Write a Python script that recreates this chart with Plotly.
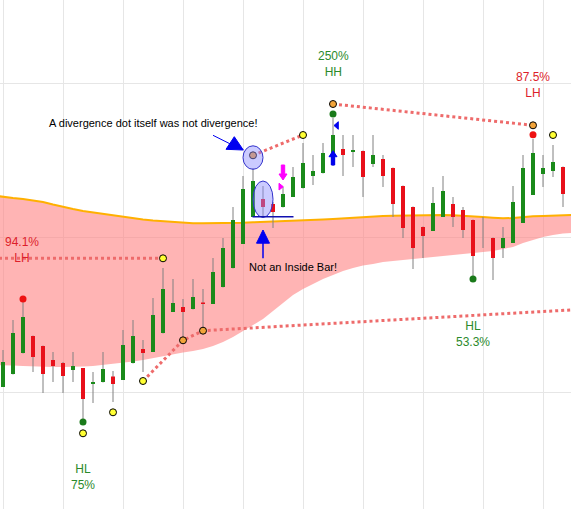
import plotly.graph_objects as go

# candles, price in chart units
bar = list(range(57))
opens = [122, 135, 156, 173, 163, 149, 146, 139, 141, 125,
         127, 132.5, 129, 146, 160, 157, 176, 197, 202, 200,
         206.5, 205, 222, 241, 265, 292, 310, 305, 302, 312,
         321, 333, 336, 344, 360, 357, 358, 345, 350, 341,
         323, 302, 282, 278, 292, 305, 299, 289, 272, 271,
         261, 266, 286, 314, 335, 338, 342]
highs = [159, 189, 207, 173.5, 163.5, 157, 147, 157, 141, 137,
         157, 138, 179, 189, 169, 211, 241, 230, 210, 230,
         220, 251, 271, 302, 333, 341, 323, 307, 322, 342,
         366, 354, 366, 391, 374, 374, 358.5, 374, 354, 341.5,
         323.5, 302.5, 282.5, 322, 333, 312, 302, 289.5, 292, 271.5,
         282, 323, 354, 370, 354, 364, 342.5]
lows = [122, 134.5, 155.5, 137, 116, 127, 116, 127, 89, 106,
        126.5, 107, 129, 145.5, 137, 157, 175.5, 197, 171, 199.5,
        182, 205, 221.5, 240.5, 265, 292, 292, 281, 301.5, 312,
        320.5, 324, 335.5, 343, 333, 342, 312, 342, 322, 292,
        271, 240, 251, 278, 292, 282, 271, 232, 261, 229,
        251, 266, 286, 314, 322, 332, 302]
closes = [147, 176, 192, 152, 135, 143, 133, 143, 110, 127,
          140, 125, 164, 173, 156, 194, 220, 206, 197, 212,
          205, 237, 261, 289, 320, 328, 302, 297, 315, 332,
          346, 338, 356, 374, 354, 359, 332, 354, 333, 305,
          281, 261, 273, 306, 318, 292, 279, 253, 272, 251,
          271, 307, 341, 356, 341, 347, 315]

# envelope band
band_x = list(range(-1, 58))
band_upper = [313.5, 312, 311, 310, 308.5, 307, 304.5, 302, 300, 298,
              296.5, 295, 293.5, 292, 290.5, 289.5, 288.5, 287.7, 287, 286.3,
              285.8, 285.7, 285.7, 285.8, 286, 286.3, 286.7, 287, 287.3, 287.7,
              288, 288.5, 289, 289.5, 290, 290.7, 291.3, 292, 292.7, 293,
              293.3, 293.5, 293.7, 294, 294, 294, 293.7, 293.3, 292.7, 292,
              291.3, 290.7, 291, 292, 292.7, 293, 293.5, 294, 294]
band_lower = [144, 144, 143.5, 143, 142.5, 142, 142, 142, 142, 142.5,
              143, 144, 145, 146.5, 147.5, 149, 151, 153, 155, 156.5,
              158, 160, 163, 167, 172, 178, 184, 190, 198, 206,
              214, 220, 225, 230, 234, 238, 241, 243.5, 245, 247,
              248, 249, 250, 251, 252, 253, 254, 255, 256, 257,
              258, 260, 262, 266, 269, 272, 274, 275.5, 276]

# pivot dots
yellow_x = [8, 11, 14, 16, 30, 55]
yellow_y = [75.7, 96.7, 128, 250.7, 374, 374]
orange_x = [18, 20, 25, 33, 53]
orange_y = [168.7, 178.3, 353.7, 405, 383.7]
green_x = [8, 33, 47]
green_y = [87, 395, 230]
red_x = [2, 53]
red_y = [210, 374.3]

# dotted trend lines
lh_x = [-1, 16]
lh_y = [250.7, 250.7]
rise_x = [14, 18, 20, 57]
rise_y = [128, 168.7, 178.3, 199.2]
div_x = [25, 30]
div_y = [353.7, 374]
hh_x = [33, 53]
hh_y = [405, 383.7]

GREEN = "#1A8A1A"
RED = "#E8101A"
DOT_LINE = "#EE6B6B"
TXT_GREEN = "#2B8A2B"
TXT_RED = "#DD1E2A"
BLUE = "#0000F0"
MAGENTA = "#FF00FF"

fig = go.Figure()

fig.add_trace(go.Scatter(x=band_x, y=band_lower, mode="lines",
                         line=dict(width=0), hoverinfo="skip"))
fig.add_trace(go.Scatter(x=band_x, y=band_upper, mode="lines", fill="tonexty",
                         fillcolor="rgba(255,130,130,0.6)",
                         line=dict(color="#FFB000", width=2), hoverinfo="skip"))

for xs, ys in [(lh_x, lh_y), (rise_x, rise_y), (div_x, div_y), (hh_x, hh_y)]:
    fig.add_trace(go.Scatter(x=xs, y=ys, mode="lines",
                             line=dict(color=DOT_LINE, width=3, dash="dot"),
                             hoverinfo="skip"))

# wicks
wx, wy = [], []
for k, h, l in zip(bar, highs, lows):
    wx += [k, k, None]
    wy += [l, h, None]
fig.add_trace(go.Scatter(x=wx, y=wy, mode="lines",
                         line=dict(color="#808080", width=1), hoverinfo="skip"))

# bodies as thick segments, so they sit above the band fill
for up, color in [(True, GREEN), (False, RED)]:
    bx, by = [], []
    for k, o, c in zip(bar, opens, closes):
        if (c >= o) == up and c != o:
            bx += [k, k, None]
            by += [o, c, None]
    fig.add_trace(go.Scatter(x=bx, y=by, mode="lines",
                             line=dict(color=color, width=4), hoverinfo="skip"))

fig.add_trace(go.Scatter(x=green_x, y=green_y, mode="markers",
                         marker=dict(size=7, color="#1A7A1A")))
fig.add_trace(go.Scatter(x=red_x, y=red_y, mode="markers",
                         marker=dict(size=7, color="#EE1111")))
fig.add_trace(go.Scatter(x=yellow_x, y=yellow_y, mode="markers",
                         marker=dict(size=7, color="#FFFF33",
                                     line=dict(color="black", width=1))))
fig.add_trace(go.Scatter(x=orange_x, y=orange_y, mode="markers",
                         marker=dict(size=7, color="#F2A43A",
                                     line=dict(color="black", width=1))))


def pix_shape(xa, ya, path, color, filled=True, width=1):
    return dict(type="path", xref="x", yref="y", xsizemode="pixel", ysizemode="pixel",
                xanchor=xa, yanchor=ya, path=path,
                fillcolor=color if filled else None,
                line=dict(color=color, width=width))


shapes = [
    # ellipse round the divergence dot
    dict(type="circle", xref="x", yref="y", xsizemode="pixel", ysizemode="pixel",
         xanchor=25, yanchor=353.7, x0=-10, x1=10, y0=-14, y1=9.5,
         fillcolor="rgba(140,140,255,0.45)", line=dict(color="#3333CC", width=1)),
    # ellipse round bar 26
    dict(type="circle", xref="x", yref="y", xsizemode="pixel", ysizemode="pixel",
         xanchor=26, yanchor=292, x0=-10, x1=10, y0=-0.5, y1=36,
         fillcolor="rgba(140,140,255,0.45)", line=dict(color="#3333CC", width=1)),
    # mother bar low
    dict(type="line", xref="x", yref="y", x0=24.95, x1=29.05, y0=292.3, y1=292.3,
         line=dict(color="#1010B0", width=1.5)),
    pix_shape(25, 353.7, "M-40,20 L-22,11", BLUE, filled=False),
    pix_shape(25, 353.7, "M-27,6 L-18.7,18.6 L-9.7,5.3 Z", BLUE),
    pix_shape(26, 292.3, "M0,-26 L0,-41.5", BLUE, filled=False, width=1.5),
    pix_shape(26, 292.3, "M0,-13.3 L-6.5,-26.5 L6.5,-26.5 Z", BLUE),
    pix_shape(33, 344, "M0,14.3 L4,8.3 L1.7,8.3 L1.7,0 L-1.7,0 L-1.7,8.3 L-4,8.3 Z", BLUE),
    pix_shape(33, 405, "M1,-21.5 L5.3,-17.7 L5.3,-25.3 Z", BLUE),
    pix_shape(28, 322, "M0,7 L4,13 L1.7,13 L1.7,22 L-1.7,22 L-1.7,13 L-4,13 Z", MAGENTA),
    pix_shape(28, 322, "M0.3,0.3 L-4,3.7 L-4,-3 Z", MAGENTA),
]

FONT = "Liberation Sans, Arial, sans-serif"
annotations = [
    dict(x=1.9, y=259, text="94.1%<br>LH", font=dict(color=TXT_RED, size=12)),
    dict(x=33, y=444.7, text="250%<br>HH", font=dict(color=TXT_GREEN, size=12)),
    dict(x=52.95, y=424, text="87.5%<br>LH", font=dict(color=TXT_RED, size=12)),
    dict(x=8, y=32, text="HL<br>75%", font=dict(color=TXT_GREEN, size=12)),
    dict(x=46.95, y=174.7, text="HL<br>53.3%", font=dict(color=TXT_GREEN, size=12)),
    dict(x=15, y=386, text="A divergence dot itself was not divergence!",
         font=dict(color="black", size=11)),
    dict(x=29, y=242, text="Not an Inside Bar!", font=dict(color="black", size=11)),
]
for a in annotations:
    a.update(xref="x", yref="y", showarrow=False)

fig.update_layout(
    width=571, height=509,
    margin=dict(l=0, r=0, t=0, b=0),
    plot_bgcolor="white", paper_bgcolor="white",
    showlegend=False,
    font=dict(family=FONT),
    shapes=shapes,
    annotations=annotations,
    xaxis=dict(range=[-0.3, 56.8], tick0=0, dtick=6, showticklabels=False,
               gridcolor="#E6E6E6", zeroline=False, fixedrange=True),
    yaxis=dict(range=[0, 509], tick0=117, dtick=154.5, showticklabels=False,
               gridcolor="#E6E6E6", zeroline=False, fixedrange=True),
)

fig.write_html("out.html", config={"displayModeBar": False},
               post_script="document.body.style.margin='0';")
